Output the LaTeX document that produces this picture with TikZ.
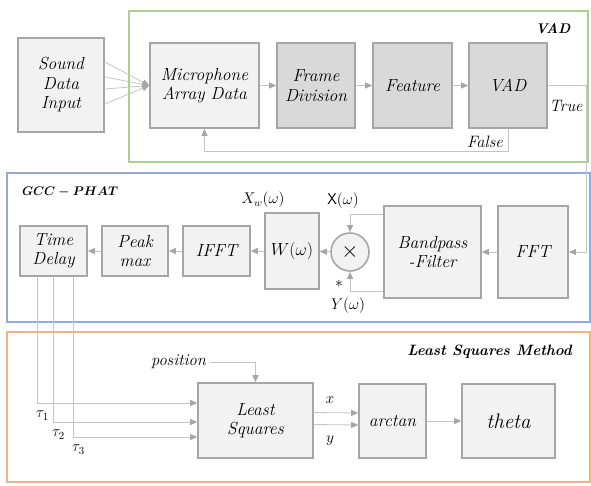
\documentclass[tikz,border=0pt]{standalone}
\usepackage{fix-cm}
\usepackage{amsmath,amssymb}
\usepackage{fontspec}
\usetikzlibrary{positioning,arrows.meta,calc}
\definecolor{boxgray}{HTML}{A6A6A6}
\definecolor{lightfill}{HTML}{F2F2F2}
\definecolor{darkfill}{HTML}{D9D9D9}
\definecolor{wire}{HTML}{C4C4C4}
\definecolor{tipgray}{HTML}{A6A6A6}
\definecolor{vadgreen}{HTML}{A9D18E}
\definecolor{gccblue}{HTML}{8FAADC}
\definecolor{lsqorange}{HTML}{F4B183}
\tikzset{
  blk/.style={draw=boxgray,line width=1.6pt,fill=lightfill,align=center,inner sep=0pt,
    font=\fontsize{17.5}{19.5}\selectfont\itshape},
  dblk/.style={blk,fill=darkfill},
  arr/.style={draw=wire,line width=0.8pt,-{Triangle[length=7pt,width=6pt,color=tipgray]}},
  frame/.style={line width=1.5pt},
  ttl/.style={font=\fontsize{14}{15}\selectfont\bfseries\itshape,inner sep=0pt},
  lbl/.style={font=\fontsize{15.5}{17}\selectfont,inner sep=0pt},
  ilbl/.style={lbl,font=\fontsize{16.5}{18}\selectfont\itshape},
}
\begin{document}
\begin{tikzpicture}[x=1pt,y=-1pt]
  \useasboundingbox (0,0) rectangle (591,485);
  % ---- group frames ----
  \draw[frame,vadgreen] (129,11) rectangle (588,162);
  \draw[frame,gccblue] (7,173) rectangle (590,322);
  \draw[frame,lsqorange] (7,332) rectangle (590,482);
  \node[ttl] (tvad) at (553,29) {VAD};
  \node[ttl,font=\fontsize{12.5}{15}\selectfont] (tgcc) at (70,192) {$\boldsymbol{GCC-PHAT}$};
  \node[ttl,anchor=east,font=\fontsize{15}{16}\selectfont\bfseries\itshape] (tlsq) at (572,352)
    {Least Squares Method};

  % ---- VAD stage ----
  \node[blk,minimum width=86,minimum height=94] (snd) at (61,85) {Sound\\Data\\Input};
  \node[blk,minimum width=109,minimum height=85] (mic) at (204.5,85.5) {Microphone\\Array Data};
  \node[dblk,minimum width=78,minimum height=85] (frm) at (316,85.5) {Frame\\Division};
  \node[dblk,minimum width=79,minimum height=85] (feat) at (412.5,85.5) {Feature};
  \node[dblk,minimum width=78,minimum height=85] (vad) at (508,85.5) {VAD};
  \foreach \dy in {-23,-8,4,19}
    \draw[arr] ($(snd.east)+(0,\dy)$) -- (mic.west);
  \draw[arr] (mic) -- (frm);
  \draw[arr] (frm) -- (feat);
  \draw[arr] (feat) -- (vad);
  \draw[arr] (vad.south) -- ++(0,23) -| (mic.south);
  \node[ilbl] (lfalse) at (485,142) {False};

  % ---- GCC-PHAT stage ----
  \node[blk,minimum width=70,minimum height=92] (fft) at (533,252) {FFT};
  \node[blk,minimum width=97,minimum height=92] (bpf) at (432.5,252) {Bandpass\\-Filter};
  \node[circle,draw=boxgray,line width=1.6pt,fill=lightfill,minimum size=38,inner sep=0pt,
    font=\fontsize{22}{22}\selectfont] (mul) at (350,252) {$\times$};
  \node[blk,minimum width=54,minimum height=76] (wbx) at (292,251) {$W(\omega)$};
  \node[blk,minimum width=67,minimum height=50] (ifft) at (216.5,251) {IFFT};
  \node[blk,minimum width=66,minimum height=50] (peak) at (135,251) {Peak\\max};
  \node[blk,minimum width=67,minimum height=50] (tdl) at (53.5,251) {Time\\Delay};
  \draw[arr] (vad.east) -- ++(39,0) |- (fft.east);
  \node[ilbl] (ltrue) at (566,106) {True};
  \draw[arr] (fft) -- (bpf);
  \draw[arr] ($(bpf.north west)+(0,9)$) -| (mul.north);
  \draw[arr] ($(bpf.south west)+(0,-7)$) -| (mul.south);
  \draw[arr] (mul) -- (wbx);
  \draw[arr] (wbx) -- (ifft);
  \draw[arr] (ifft) -- (peak);
  \draw[arr] (peak) -- (tdl);
  \node[lbl] (lxw) at (263,200) {$X_w(\omega)$};
  \node[lbl] (lx) at (343,201) {$\mathsf{X}(\omega)$};
  \node[lbl] (lst) at (339,284) {$*$};
  \node[lbl] (ly) at (348,306) {$Y(\omega)$};

  % ---- least squares stage ----
  \node[blk,minimum width=115,minimum height=75] (lsq) at (255.5,420.5) {Least\\Squares};
  \node[blk,minimum width=67,minimum height=74] (atan) at (392.5,421) {arctan};
  \node[blk,minimum width=93,minimum height=74,font=\fontsize{21}{22}\selectfont\itshape]
    (theta) at (508.5,421) {theta};
  \node[ilbl] (pos) at (178.5,362) {position};
  \draw[arr] ($(pos.east)+(4,0)$) -| (lsq.north);
  \foreach \dx/\yy/\i in {-16.5/403/1,-0.5/422/2,19.5/437/3}{
    \draw[arr] ($(tdl.south)+(\dx,0)$) |- (lsq.west |- 0,\yy);
    \node[lbl] (tau\i) at ($(tdl.south)+(\dx+5.5,\yy+12-276)$) {$\tau_\i$};
  }
  \draw[arr] ($(lsq.east)+(0,-8)$) -- ($(atan.west)+(0,-8)$);
  \draw[arr] ($(lsq.east)+(0,4)$) -- ($(atan.west)+(0,4)$);
  \node[lbl] (lxo) at (330,400) {$x$};
  \node[lbl] (lyo) at (330,441) {$y$};
  \draw[arr] (atan) -- (theta);
\end{tikzpicture}
\end{document}
